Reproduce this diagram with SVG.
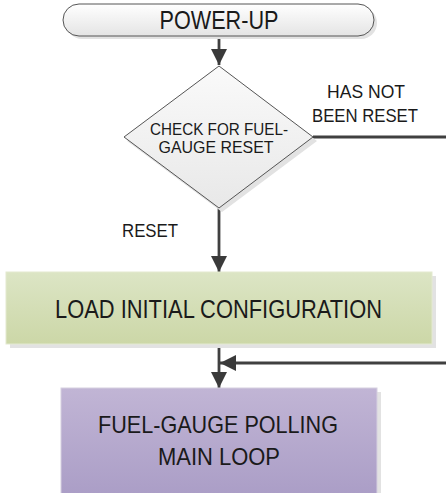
<svg xmlns="http://www.w3.org/2000/svg" width="446" height="493" viewBox="0 0 446 493">
<defs>
<linearGradient id="gTerm" x1="0" y1="0" x2="0" y2="1"><stop offset="0" stop-color="#ffffff"/><stop offset="1" stop-color="#e4e4e4"/></linearGradient>
<linearGradient id="gDia" x1="0" y1="0" x2="0" y2="1"><stop offset="0" stop-color="#fafafa"/><stop offset="1" stop-color="#e8e8e8"/></linearGradient>
<linearGradient id="gGreen" x1="0" y1="0" x2="0" y2="1"><stop offset="0" stop-color="#dce5c5"/><stop offset="1" stop-color="#ccd7a7"/></linearGradient>
<linearGradient id="gPurple" x1="0" y1="0" x2="0" y2="1"><stop offset="0" stop-color="#c1b5d5"/><stop offset="1" stop-color="#aa9dc6"/></linearGradient>
<marker id="arr" viewBox="0 0 16 16" refX="16" refY="8" markerWidth="16" markerHeight="16" markerUnits="userSpaceOnUse" orient="auto">
<path d="M0,0 L16,8 L0,16 Z" fill="#3a3a3a"/>
</marker>
</defs>
<style>
text{font-family:"Liberation Sans",Arial,sans-serif;fill:#1a1a1a;text-anchor:middle}
.shadow{fill:#e2e2e2}
.conn{fill:none;stroke:#404040;stroke-width:2.8}
</style>
<g id="connectors">
<path class="conn" d="M219,36 V65" marker-end="url(#arr)"/>
<path class="conn" d="M219,208 V272" marker-end="url(#arr)"/>
<path class="conn" d="M219,344 V388" marker-end="url(#arr)"/>
<path class="conn" d="M313,137 H452 V363 H220" marker-end="url(#arr)"/>
</g>
<g id="power-up">
<rect class="shadow" x="66" y="7" width="311" height="32" rx="16"/>
<rect x="63" y="4" width="311" height="32" rx="16" fill="url(#gTerm)" stroke="#555" stroke-width="1"/>
<text x="219" y="29" font-size="25" textLength="119" lengthAdjust="spacingAndGlyphs">POWER-UP</text>
</g>
<g id="check-reset">
<path class="shadow" d="M222,70 L317,141 L222,212 L127,141 Z"/>
<path d="M219,66 L313,137 L219,208 L124,137 Z" fill="url(#gDia)" stroke="#555" stroke-width="1"/>
<text x="219" y="135" font-size="17" textLength="138" lengthAdjust="spacingAndGlyphs">CHECK FOR FUEL-</text>
<text x="216" y="153" font-size="17" textLength="115" lengthAdjust="spacingAndGlyphs">GAUGE RESET</text>
</g>
<g id="labels">
<text x="366" y="98" font-size="18.5" textLength="78" lengthAdjust="spacingAndGlyphs">HAS NOT</text>
<text x="365" y="122" font-size="18.5" textLength="106" lengthAdjust="spacingAndGlyphs">BEEN RESET</text>
<text x="150" y="237" font-size="19" textLength="56" lengthAdjust="spacingAndGlyphs">RESET</text>
</g>
<g id="load-config">
<rect class="shadow" x="10" y="276" width="426" height="72"/>
<rect x="6" y="272" width="426" height="72" fill="url(#gGreen)" stroke="#e3e9d0" stroke-width="1"/>
<text x="218.5" y="318" font-size="25" textLength="327" lengthAdjust="spacingAndGlyphs">LOAD INITIAL CONFIGURATION</text>
</g>
<g id="main-loop">
<rect class="shadow" x="65" y="392" width="316" height="110"/>
<rect x="61" y="388" width="316" height="110" fill="url(#gPurple)" stroke="#d6d0e0" stroke-width="1"/>
<text x="218" y="433" font-size="24" textLength="240" lengthAdjust="spacingAndGlyphs">FUEL-GAUGE POLLING</text>
<text x="219" y="465" font-size="24" textLength="122" lengthAdjust="spacingAndGlyphs">MAIN LOOP</text>
</g>
</svg>
